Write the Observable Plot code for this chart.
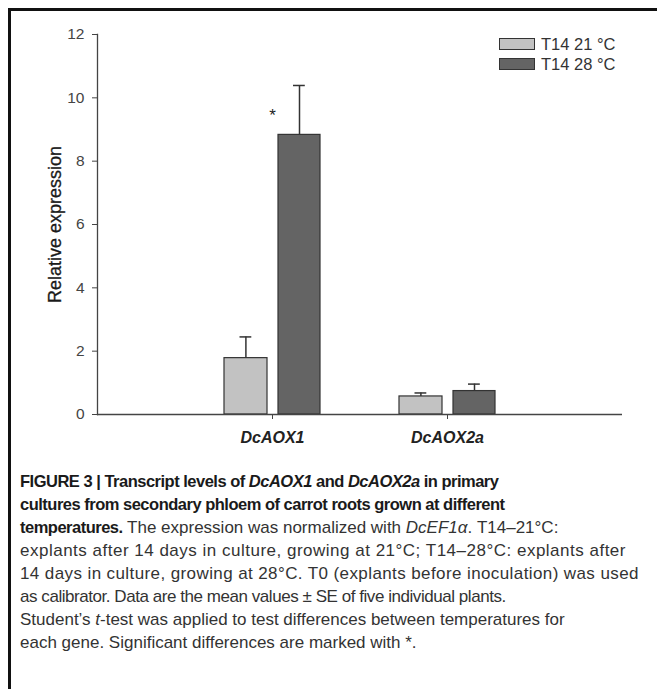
<!DOCTYPE html>
<html><head><meta charset="utf-8">
<script src="https://cdn.jsdelivr.net/npm/d3@7"></script>
<script src="https://cdn.jsdelivr.net/npm/@observablehq/plot@0.6"></script>
<style>
body{margin:0;background:#fff;font-family:"Liberation Sans",Arial,Helvetica,sans-serif;}
#wrap{position:relative;width:657px;height:689px;overflow:hidden;background:#fff;}
#frame{position:absolute;left:8px;top:8px;right:-10px;bottom:-10px;border-top:3px solid #111;border-left:3px solid #111;}
#chart{position:absolute;left:0;top:0;}
#legend{position:absolute;left:499px;top:34px;font-size:16.5px;color:#333;line-height:20px;}
#legend .row{display:flex;align-items:center;height:20px;}
#legend .sw{width:34px;height:10px;border:1px solid #333;margin-right:6px;}
#caption{position:absolute;left:20px;top:470px;font-size:17px;line-height:23px;color:#333;white-space:nowrap;}
#caption b{color:#1a1a1a;font-size:16.5px;letter-spacing:-0.5px;}
#caption .l4{letter-spacing:0.5px;}
#caption .l5{letter-spacing:0.4px;}
#caption .l6{letter-spacing:-0.45px;}
</style>
</head><body>
<div id="wrap">
<div id="frame"></div>
<div id="chart"></div>
<div id="legend"></div>
<div id="caption"><b>FIGURE 3 | Transcript levels of <i>DcAOX1</i> and <i>DcAOX2a</i> in primary<br>cultures from secondary phloem of carrot roots grown at different<br>temperatures.</b> The expression was normalized with <i>DcEF1α</i>. T14–21°C:<br><span class="l4">explants after 14 days in culture, growing at 21°C; T14–28°C: explants after</span><br><span class="l5">14 days in culture, growing at 28°C. T0 (explants before inoculation) was used</span><br><span class="l6">as calibrator. Data are the mean values ± SE of five individual plants.</span><br>Student’s <i>t</i>-test was applied to test differences between temperatures for<br>each gene. Significant differences are marked with *.</div>
</div>
<script>
const genes = ["DcAOX1", "DcAOX2a"];
const seriesNames = ["T14 21 °C", "T14 28 °C"];
const mean21 = [1.78, 0.57];
const se21 = [0.67, 0.11];
const mean28 = [8.83, 0.74];
const se28 = [1.56, 0.22];
const yTicks = [0, 2, 4, 6, 8, 10, 12];
const significantGenes = ["DcAOX1"];
const starLevel = [9.45];
const seriesColors = ["#c2c2c2", "#646464"];

const rows21 = genes.map((g, i) => ({gene: g, mean: mean21[i], se: se21[i]}));
const rows28 = genes.map((g, i) => ({gene: g, mean: mean28[i], se: se28[i]}));
const stars = significantGenes.map((g, i) => ({gene: g, y: starLevel[i]}));

const ink = "#333";
const chart = Plot.plot({
  width: 657,
  height: 460,
  marginLeft: 97,
  marginRight: 35,
  marginTop: 34,
  marginBottom: 46,
  style: {fontFamily: "'Liberation Sans', Arial, sans-serif", color: "#444", background: "transparent", overflow: "visible"},
  x: {type: "band", domain: genes, paddingInner: 0.45, paddingOuter: 0.725},
  y: {domain: [0, 12]},
  marks: [
    Plot.barY(rows21, {x: "gene", y: "mean", fill: seriesColors[0], stroke: ink, strokeWidth: 1.2, insetRight: 53}),
    Plot.barY(rows28, {x: "gene", y: "mean", fill: seriesColors[1], stroke: ink, strokeWidth: 1.2, insetLeft: 54}),
    Plot.ruleX(rows21, {x: "gene", y1: "mean", y2: d => d.mean + d.se, dx: -26.6, stroke: ink, strokeWidth: 1.5}),
    Plot.tickY(rows21, {x: "gene", y: d => d.mean + d.se, insetLeft: 15.5, insetRight: 68.7, stroke: ink, strokeWidth: 1.5}),
    Plot.ruleX(rows28, {x: "gene", y1: "mean", y2: d => d.mean + d.se, dx: 27, stroke: ink, strokeWidth: 1.5}),
    Plot.tickY(rows28, {x: "gene", y: d => d.mean + d.se, insetLeft: 69, insetRight: 15.2, stroke: ink, strokeWidth: 1.5}),
    Plot.text(stars, {x: "gene", y: "y", text: () => "*", fontSize: 17, fill: "#222"}),
    Plot.frame({anchor: "left", stroke: "#444", strokeWidth: 1.3}),
    Plot.ruleY([0], {stroke: "#444", strokeWidth: 1.3}),
    Plot.axisY({ticks: yTicks, tickSize: 5, tickPadding: 8, fontSize: 15.5, label: null, stroke: "#444", fill: "#444"}),
    Plot.axisX({tickSize: 5, tickPadding: 12, fontSize: 16, fontWeight: "bold", fontStyle: "italic", label: null, stroke: "#444", fill: "#222"}),
    Plot.text(["Relative expression"], {frameAnchor: "left", textAnchor: "middle", rotate: -90, dx: -42, fontSize: 18, fill: "#1a1a1a", stroke: "#1a1a1a", strokeWidth: 0.3, text: d => d})
  ]
});
document.getElementById("chart").appendChild(chart);

const legend = document.getElementById("legend");
seriesNames.forEach((name, i) => {
  const row = document.createElement("div");
  row.className = "row";
  const sw = document.createElement("div");
  sw.className = "sw";
  sw.style.background = seriesColors[i];
  const label = document.createElement("span");
  label.textContent = name;
  row.appendChild(sw);
  row.appendChild(label);
  legend.appendChild(row);
});
</script>
</body></html>
